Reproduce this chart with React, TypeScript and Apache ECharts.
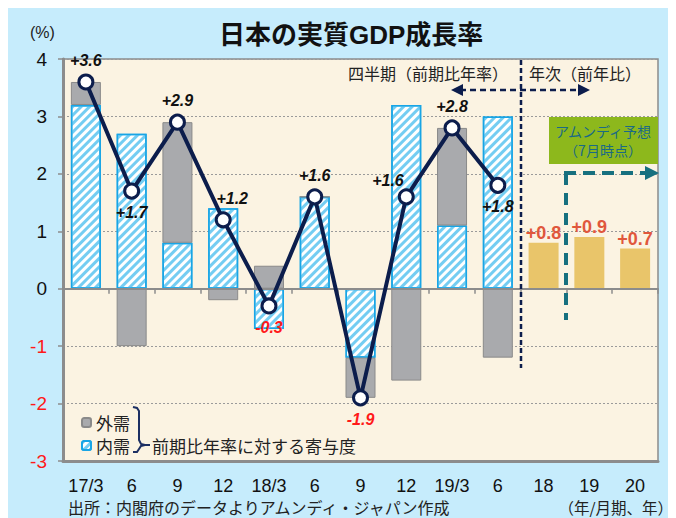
import React, { useEffect, useRef } from 'react';
import * as echarts from 'echarts';

const categories = ['17/3', '6', '9', '12', '18/3', '6', '9', '12', '19/3', '6', '18', '19', '20'];
const domesticDemand = [3.2, 2.7, 0.8, 1.4, -0.7, 1.6, -1.2, 3.2, 1.1, 3.0, null, null, null];
const externalDemand = [0.4, -1.0, 2.1, -0.2, 0.4, 0, -0.7, -1.6, 1.7, -1.2, null, null, null];
const quarterlyGrowth = [3.6, 1.7, 2.9, 1.2, -0.3, 1.6, -1.9, 1.6, 2.8, 1.8, null, null, null];
const annualForecast = [null, null, null, null, null, null, null, null, null, null, 0.8, 0.9, 0.7];
const yMin = -3;
const yMax = 4;
const yInterval = 1;

const FONT = "'Liberation Sans', 'Noto Sans CJK JP', sans-serif";
const JP = "'Noto Sans CJK JP', 'Liberation Sans', sans-serif";

const labelPlacement: any[] = [
  { position: 'top' },
  { position: 'bottom' },
  { position: 'top' },
  { position: 'top', offset: [9, 0] },
  { position: 'bottom' },
  { position: 'top' },
  { position: 'bottom' },
  { position: 'left', offset: [11, -16] },
  { position: 'top' },
  { position: 'bottom' },
];

const fmt = (v: number) => (v > 0 ? '+' + v.toFixed(1) : v.toFixed(1));

export default function App() {
  const ref = useRef<HTMLDivElement>(null);
  useEffect(() => {
    if (!ref.current) return;
    const chart = echarts.init(ref.current, null, { renderer: 'svg' });
    const navy = '#0c1d4c';
    const teal = '#17707f';
    const lineData = quarterlyGrowth.map((v, i) =>
      v === null
        ? null
        : {
            value: v,
            label: {
              ...labelPlacement[i],
              color: v < 0 ? '#ff1a1a' : '#111',
            },
          }
    );
    chart.setOption({
      animation: false,
      backgroundColor: '#c6ecfc',
      title: {
        text: '日本の実質GDP成長率',
        left: 206,
        top: 9,
        textStyle: { fontFamily: FONT, fontSize: 26, fontWeight: 'bold', color: '#111' },
      },
      legend: {
        data: ['外需', '内需'],
        orient: 'vertical',
        left: 68,
        top: 401,
        itemWidth: 9,
        itemHeight: 9,
        itemGap: 6,
        textStyle: { fontFamily: JP, fontSize: 17, color: '#222' },
      },
      grid: {
        left: 55,
        right: 18,
        top: 51,
        bottom: 57,
        show: true,
        backgroundColor: '#fbf3e2',
        borderColor: '#8c8c8c',
        borderWidth: 1.5,
      },
      xAxis: [
        {
          type: 'category',
          data: categories,
          position: 'bottom',
          axisLine: { onZero: true, lineStyle: { color: '#8c8c8c', width: 2 } },
          axisTick: { show: true, length: 5, interval: 0, lineStyle: { color: '#8c8c8c', width: 1.5 } },
          axisLabel: { show: false },
          z: 3,
        },
        {
          type: 'category',
          data: categories,
          position: 'bottom',
          axisLine: { onZero: false, lineStyle: { color: '#8c8c8c', width: 3 } },
          axisTick: { show: false },
          axisLabel: { interval: 0, fontFamily: FONT, fontSize: 18, color: '#111', margin: 16 },
        },
      ],
      yAxis: {
        type: 'value',
        min: yMin,
        max: yMax,
        interval: yInterval,
        axisLine: { show: true, lineStyle: { color: '#8c8c8c', width: 3 } },
        axisTick: { show: true, length: 5, lineStyle: { color: '#8c8c8c', width: 1.5 } },
        axisLabel: {
          fontFamily: FONT,
          fontSize: 19,
          margin: 16,
          color: (v: any) => (Number(v) < 0 ? '#ff1a1a' : '#111'),
        },
        splitLine: { show: true, lineStyle: { color: '#9a9a9a', type: [2, 2], width: 1 } },
      },
      series: [
        {
          name: '内需',
          type: 'bar',
          stack: 'q',
          barWidth: 30,
          data: domesticDemand,
          itemStyle: {
            color: '#ffffff',
            borderColor: '#18a5e6',
            borderWidth: 1.5,
            decal: {
              symbol: 'rect',
              symbolSize: 1,
              color: '#74cdf2',
              dashArrayX: [1, 0],
              dashArrayY: [3, 3],
              rotation: -Math.PI / 4,
            },
          },
        },
        {
          name: '外需',
          type: 'bar',
          stack: 'q',
          barWidth: 30,
          data: externalDemand,
          itemStyle: { color: '#a9aaad', borderColor: '#8a8a8a', borderWidth: 1 },
        },
        {
          name: '年次',
          type: 'bar',
          stack: 'q',
          barWidth: 30,
          data: annualForecast,
          itemStyle: { color: '#e9c56a' },
          label: {
            show: true,
            position: 'top',
            distance: 1,
            formatter: (p: any) => fmt(p.value),
            fontFamily: FONT,
            fontSize: 18,
            fontWeight: 'bold',
            color: '#e0573c',
          },
        },
        {
          name: 'GDP',
          type: 'line',
          data: lineData,
          z: 5,
          symbol: 'circle',
          symbolSize: 14,
          lineStyle: { color: navy, width: 4 },
          itemStyle: { color: '#ffffff', borderColor: navy, borderWidth: 3 },
          label: {
            show: true,
            formatter: (p: any) => fmt(p.value),
            fontFamily: FONT,
            fontSize: 16,
            fontWeight: 'bold',
            fontStyle: 'italic',
          },
        },
      ],
      graphic: [
        { type: 'text', left: 22, top: 16, style: { text: '(%)', fontFamily: FONT, fontSize: 16, fill: '#222' } },
        {
          type: 'text',
          x: 340,
          y: 65,
          style: { text: '四半期（前期比年率）', fontFamily: JP, fontSize: 16, fill: '#222', verticalAlign: 'middle' },
        },
        {
          type: 'text',
          x: 521,
          y: 65,
          style: { text: '年次（前年比）', fontFamily: JP, fontSize: 16, fill: '#222', verticalAlign: 'middle' },
        },
        {
          type: 'line',
          shape: { x1: 513, y1: 52, x2: 513, y2: 360 },
          style: { stroke: navy, lineWidth: 2.5, lineDash: [5, 3] },
          z: 10,
        },
        {
          type: 'line',
          shape: { x1: 452, y1: 82, x2: 573, y2: 82 },
          style: { stroke: navy, lineWidth: 2.5, lineDash: [6, 4] },
          z: 10,
        },
        { type: 'polygon', shape: { points: [[443, 82], [455, 76], [455, 88]] }, style: { fill: navy }, z: 10 },
        { type: 'polygon', shape: { points: [[582, 82], [570, 76], [570, 88]] }, style: { fill: navy }, z: 10 },
        { type: 'rect', shape: { x: 541, y: 109, width: 109, height: 47 }, style: { fill: '#8db81c' }, z: 10 },
        {
          type: 'text',
          x: 595,
          y: 123,
          z: 11,
          style: { text: 'アムンディ予想', fontFamily: JP, fontSize: 14, fill: '#1a6a86', align: 'center', verticalAlign: 'middle' },
        },
        {
          type: 'text',
          x: 595,
          y: 142,
          z: 11,
          style: { text: '（7月時点）', fontFamily: JP, fontSize: 14, fill: '#1a6a86', align: 'center', verticalAlign: 'middle' },
        },
        {
          type: 'line',
          shape: { x1: 556, y1: 165, x2: 638, y2: 165 },
          style: { stroke: teal, lineWidth: 4, lineDash: [12, 7] },
          z: 10,
        },
        {
          type: 'line',
          shape: { x1: 558, y1: 165, x2: 558, y2: 312 },
          style: { stroke: teal, lineWidth: 4, lineDash: [12, 8] },
          z: 10,
        },
        { type: 'polygon', shape: { points: [[651, 165], [637, 158], [637, 172]] }, style: { fill: teal }, z: 10 },
        {
          type: 'polyline',
          shape: {
            points: [[125, 399], [129, 400], [131, 403], [131, 432], [133, 436], [137, 437], [133, 438], [131, 441], [129, 444], [125, 444]],
          },
          style: { stroke: '#1c2f63', lineWidth: 2, fill: null },
          z: 10,
        },
        { type: 'line', shape: { x1: 137, y1: 437, x2: 142, y2: 437 }, style: { stroke: '#1c2f63', lineWidth: 2 }, z: 10 },
        {
          type: 'text',
          x: 144,
          y: 437,
          z: 10,
          style: { text: '前期比年率に対する寄与度', fontFamily: JP, fontSize: 17, fill: '#222', verticalAlign: 'middle' },
        },
        {
          type: 'text',
          x: 60,
          y: 499,
          style: { text: '出所：内閣府のデータよりアムンディ・ジャパン作成', fontFamily: JP, fontSize: 16, fill: '#222', verticalAlign: 'middle' },
        },
        {
          type: 'text',
          x: 665,
          y: 499,
          style: { text: '（年/月期、年）', fontFamily: JP, fontSize: 15.5, fill: '#222', align: 'right', verticalAlign: 'middle' },
        },
      ],
    });
    return () => chart.dispose();
  }, []);
  return <div ref={ref} style={{ width: 668, height: 510 }} />;
}
